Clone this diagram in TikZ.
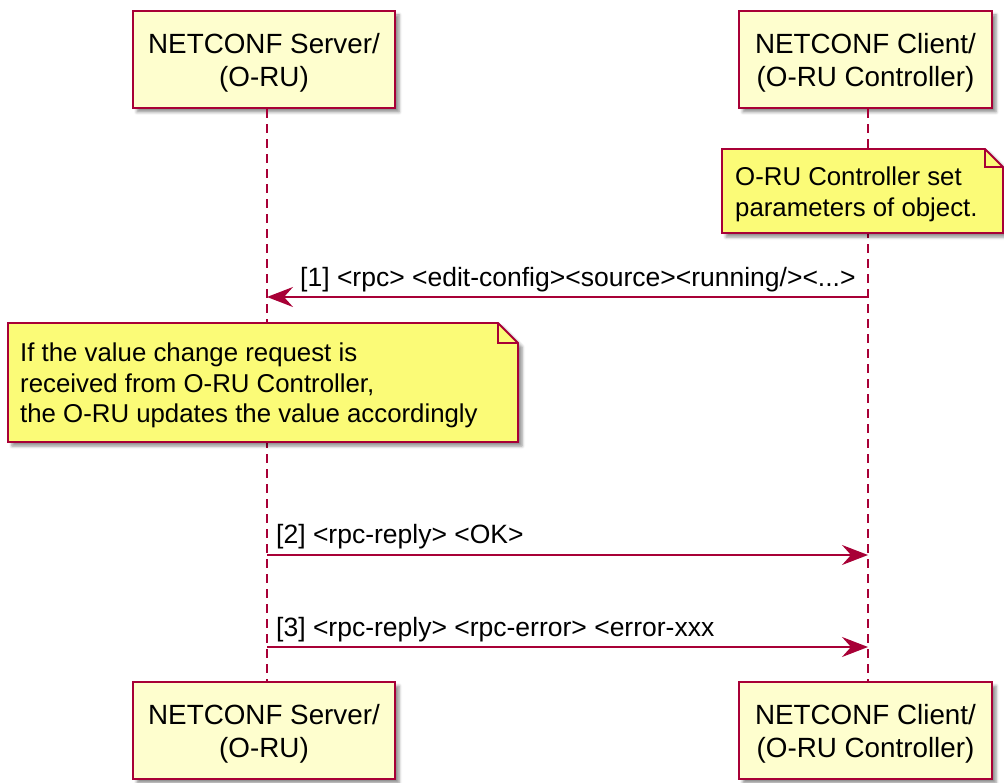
\documentclass[tikz,border=0pt]{standalone}
\usepackage{fontspec}
\setmainfont{Liberation Sans}
\usetikzlibrary{arrows.meta,shadows.blur}
\definecolor{pumlred}{HTML}{A80036}
\definecolor{partfill}{HTML}{FEFECE}
\definecolor{notefill}{HTML}{FBFB77}
\begin{document}
\begin{tikzpicture}[x=1pt,y=-1pt,
  shadowed/.style={blur shadow={shadow xshift=4pt,shadow yshift=-4pt,shadow blur radius=3pt,shadow opacity=45}},
  partbox/.style={draw=pumlred,fill=partfill,line width=2.2pt,shadowed,minimum height=97pt,align=center,inner sep=0pt,text depth=0pt,font=\fontsize{27.8}{33}\selectfont},
  lifeline/.style={draw=pumlred,line width=1.8pt,dash pattern=on 9pt off 6pt},
  notebox/.style={draw=pumlred,fill=notefill,line width=1.8pt,line join=miter},
  notetext/.style={align=left,inner sep=0pt,font=\fontsize{25.8}{30.5}\selectfont},
  msgline/.style={draw=pumlred,line width=1.8pt,-{Stealth[length=26pt,width=20pt,inset=9pt]}},
  msgtext/.style={anchor=west,inner sep=0pt,font=\fontsize{26.5}{30.5}\selectfont}
]
\useasboundingbox (0,0) rectangle (1004,783);
% participants
\node[partbox,minimum width=262pt] (srvTop) at (264,59.5) {NETCONF Server/\\(O-RU)};
\node[partbox,minimum width=253pt] (cliTop) at (865.5,59.5) {NETCONF Client/\\(O-RU Controller)};
\node[partbox,minimum width=262pt] (srvBot) at (264,730.5) {NETCONF Server/\\(O-RU)};
\node[partbox,minimum width=253pt] (cliBot) at (865.5,730.5) {NETCONF Client/\\(O-RU Controller)};
% lifelines
\coordinate (sx) at (267,0);
\coordinate (cx) at (868,0);
\path[lifeline] (srvTop.south -| sx) -- (srvBot.north -| sx);
\path[lifeline] (cliTop.south -| cx) -- (cliBot.north -| cx);
% note 1
\path[notebox,shadowed] (722,149) -- (985,149) -- (1003,167) -- (1003,233) -- (722,233) -- cycle;
\draw[pumlred,line width=1.8pt] (985,149) -- (985,167) -- (1003,167);
\node[notetext,anchor=west] (note1) at (735,194.5) {O-RU Controller set\\parameters of object.};
% message 1
\coordinate (a1s) at (868,297);
\coordinate (a1e) at (267,297);
\path[msgline] (a1s) -- (a1e);
\node[msgtext] (m1) at (300,280) {[1] <rpc> <edit-config><source><running/><...>};
% note 2
\path[notebox,shadowed] (8,323) -- (498,323) -- (518,343) -- (518,442) -- (8,442) -- cycle;
\draw[pumlred,line width=1.8pt] (498,323) -- (498,343) -- (518,343);
\node[notetext,anchor=west] (note2) at (20,385.5) {If the value change request is\\received from O-RU Controller,\\the O-RU updates the value accordingly};
% message 2
\coordinate (a2s) at (267,555);
\coordinate (a2e) at (868,555);
\path[msgline] (a2s) -- (a2e);
\node[msgtext] (m2) at (276,537) {[2] <rpc-reply> <OK>};
% message 3
\coordinate (a3s) at (267,647);
\coordinate (a3e) at (868,647);
\path[msgline] (a3s) -- (a3e);
\node[msgtext] (m3) at (276,630) {[3] <rpc-reply> <rpc-error> <error-xxx};
\end{tikzpicture}
\end{document}
